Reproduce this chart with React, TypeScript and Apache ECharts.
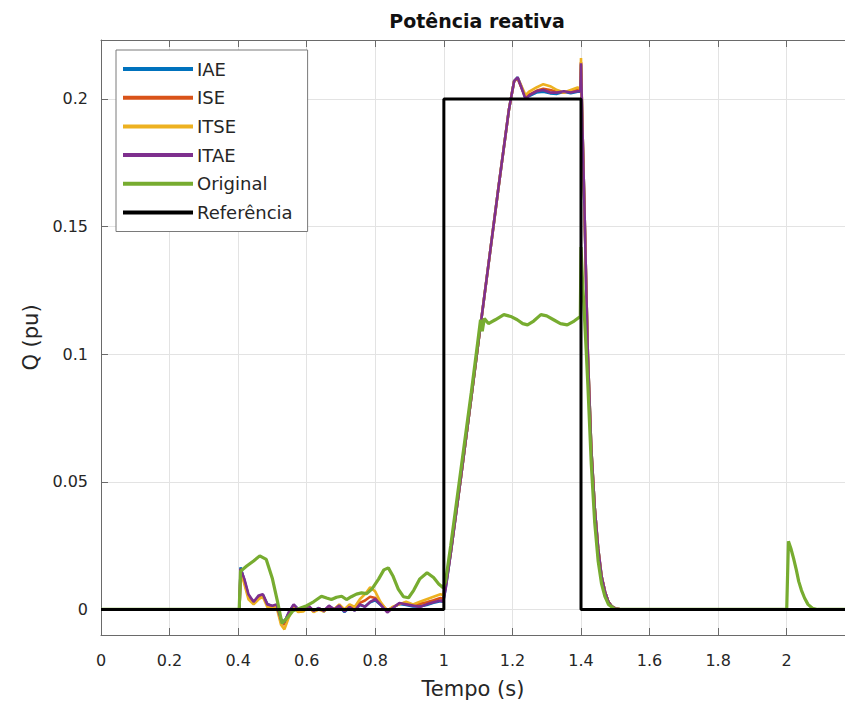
import { useEffect, useRef } from "react";
import * as echarts from "echarts";

const chartTitle = "Potência reativa";
const xName = "Tempo (s)";
const yName = "Q (pu)";
const xTicks = [0, 0.2, 0.4, 0.6, 0.8, 1, 1.2, 1.4, 1.6, 1.8, 2];
const yTicks = [0, 0.05, 0.1, 0.15, 0.2];
const seriesNames = ["IAE", "ISE", "ITSE", "ITAE", "Original", "Referência"];
const seriesColors = ["#0072BD", "#D95319", "#EDB120", "#7E2F8E", "#77AC30", "#000000"];

// time base shared by the four tuned controllers
const tCtrl = [0, 0.404, 0.407, 0.418, 0.43, 0.445, 0.46, 0.472, 0.485, 0.5, 0.512, 0.525, 0.535, 0.548, 0.562, 0.575, 0.59, 0.605, 0.62, 0.635, 0.65, 0.665, 0.68, 0.695, 0.71, 0.725, 0.74, 0.755, 0.77, 0.785, 0.8, 0.815, 0.835, 0.85, 0.87, 0.89, 0.91, 0.93, 0.95, 0.97, 0.99, 0.998, 1.005, 1.02, 1.05, 1.08, 1.1, 1.13, 1.16, 1.19, 1.205, 1.215, 1.225, 1.238, 1.25, 1.27, 1.29, 1.31, 1.33, 1.35, 1.37, 1.39, 1.398, 1.4, 1.404, 1.41, 1.415, 1.42, 1.43, 1.44, 1.45, 1.46, 1.47, 1.48, 1.49, 1.5, 1.52, 2.17];

const qIAE = [0, 0, 0.0165, 0.0115, 0.0055, 0.0028, 0.005, 0.0058, 0.0022, 0.0012, 0.0018, -0.0038, -0.0048, -0.0012, 0.0018, 0.0002, -0.0002, 0.0012, -0.0006, 0.0006, -0.0008, 0.0012, 0.0001, 0.0012, -0.001, 0.0008, -0.0004, 0.0018, 0.0012, 0.0028, 0.0036, 0.0018, -0.0008, 0.0006, 0.0022, 0.0018, 0.0012, 0.0012, 0.0018, 0.0026, 0.0032, 0.003, 0.008, 0.022, 0.052, 0.083, 0.104, 0.135, 0.166, 0.196, 0.207, 0.2085, 0.2052, 0.2005, 0.2012, 0.2025, 0.2028, 0.2022, 0.202, 0.2028, 0.2022, 0.2028, 0.2028, 0.2135, 0.19, 0.158, 0.128, 0.1, 0.063, 0.04, 0.024, 0.013, 0.007, 0.003, 0.0012, 0.0004, 0, 0];
const qISE = [0, 0, 0.0158, 0.0108, 0.005, 0.0025, 0.0048, 0.0055, 0.0018, 0.0008, 0.0015, -0.0045, -0.006, -0.002, 0.0015, -0.0004, -0.0004, 0.0012, -0.0008, 0.0004, -0.0006, 0.0012, 0.0, 0.0016, -0.0004, 0.0012, 0.0, 0.0026, 0.0035, 0.005, 0.0045, 0.0025, -0.0004, 0.0008, 0.0022, 0.0026, 0.0018, 0.0022, 0.0028, 0.0036, 0.0045, 0.004, 0.009, 0.022, 0.052, 0.083, 0.104, 0.135, 0.166, 0.196, 0.207, 0.208, 0.2048, 0.2008, 0.2018, 0.2032, 0.204, 0.2035, 0.2028, 0.2025, 0.203, 0.2035, 0.2035, 0.2145, 0.19, 0.158, 0.128, 0.1, 0.063, 0.04, 0.024, 0.013, 0.007, 0.003, 0.0012, 0.0004, 0, 0];
const qITSE = [0, 0, 0.015, 0.01, 0.004, 0.002, 0.004, 0.005, 0.001, 0.0005, 0.001, -0.006, -0.0078, -0.003, 0.001, -0.001, -0.0008, 0.001, -0.001, 0.0, -0.0008, 0.001, 0.0, 0.002, 0.0, 0.002, 0.001, 0.004, 0.006, 0.0087, 0.007, 0.003, -0.0006, 0.001, 0.002, 0.003, 0.002, 0.003, 0.004, 0.005, 0.006, 0.0055, 0.01, 0.023, 0.052, 0.083, 0.104, 0.135, 0.166, 0.196, 0.207, 0.2082, 0.2055, 0.2015, 0.203, 0.2045, 0.2058, 0.205, 0.2035, 0.2025, 0.2035, 0.2045, 0.204, 0.216, 0.19, 0.158, 0.128, 0.1, 0.063, 0.04, 0.024, 0.013, 0.007, 0.003, 0.0012, 0.0004, 0, 0];
const qITAE = [0, 0, 0.016, 0.012, 0.006, 0.003, 0.0055, 0.006, 0.002, 0.0015, 0.002, -0.004, -0.005, -0.001, 0.002, 0.0, 0.0, 0.0015, -0.0005, 0.0005, -0.0005, 0.0015, 0.0, 0.0015, -0.0008, 0.001, -0.0005, 0.002, 0.001, 0.003, 0.004, 0.002, -0.0012, 0.0005, 0.0025, 0.002, 0.0015, 0.001, 0.002, 0.0028, 0.0035, 0.003, 0.008, 0.022, 0.052, 0.083, 0.104, 0.135, 0.166, 0.196, 0.207, 0.2085, 0.205, 0.2, 0.2015, 0.203, 0.2035, 0.2025, 0.2025, 0.203, 0.2025, 0.203, 0.203, 0.214, 0.19, 0.158, 0.128, 0.1, 0.063, 0.04, 0.024, 0.013, 0.007, 0.003, 0.0012, 0.0004, 0, 0];

const tOrig = [0, 0.403, 0.407, 0.425, 0.445, 0.463, 0.482, 0.5, 0.515, 0.528, 0.545, 0.56, 0.58, 0.6, 0.62, 0.643, 0.658, 0.672, 0.687, 0.702, 0.716, 0.73, 0.745, 0.76, 0.775, 0.79, 0.81, 0.825, 0.838, 0.852, 0.867, 0.882, 0.897, 0.912, 0.93, 0.951, 0.97, 0.985, 0.998, 1.005, 1.02, 1.05, 1.08, 1.1, 1.107, 1.112, 1.118, 1.13, 1.15, 1.175, 1.195, 1.214, 1.23, 1.244, 1.262, 1.283, 1.3, 1.32, 1.34, 1.36, 1.38, 1.398, 1.4, 1.404, 1.41, 1.415, 1.42, 1.43, 1.44, 1.45, 1.46, 1.47, 1.48, 1.5, 2.0, 2.005, 2.012, 2.02, 2.028, 2.035, 2.043, 2.052, 2.062, 2.075, 2.09, 2.17];
const qOrig = [0, 0, 0.015, 0.017, 0.019, 0.021, 0.0196, 0.012, 0.003, -0.0055, -0.003, -0.0005, 0.0005, 0.0015, 0.003, 0.0052, 0.0045, 0.0039, 0.0048, 0.0052, 0.0039, 0.005, 0.006, 0.0065, 0.0062, 0.008, 0.012, 0.0155, 0.0163, 0.013, 0.008, 0.005, 0.0046, 0.0075, 0.012, 0.0144, 0.0125, 0.01, 0.0085, 0.011, 0.025, 0.055, 0.085, 0.106, 0.1135, 0.109, 0.114, 0.112, 0.1135, 0.1155, 0.1148, 0.1135, 0.112, 0.1115, 0.113, 0.1155, 0.115, 0.1135, 0.112, 0.1115, 0.113, 0.1148, 0.142, 0.13, 0.115, 0.102, 0.088, 0.057, 0.034, 0.019, 0.01, 0.005, 0.002, 0, 0, 0.0267, 0.024, 0.02, 0.0155, 0.011, 0.0075, 0.0045, 0.002, 0.0005, 0, 0];

const tRef = [0, 1, 1, 1.4, 1.4, 2.17];
const qRef = [0, 0, 0.2, 0.2, 0, 0];

const FONT = "'DejaVu Sans', sans-serif";

function pairs(t: number[], q: number[]) {
  return t.map((x, i) => [x, q[i]]);
}

export default function App() {
  const ref = useRef<HTMLDivElement>(null);
  useEffect(() => {
    if (!ref.current) return;
    const chart = echarts.init(ref.current, null, { renderer: "svg" });
    const datasets = [
      pairs(tCtrl, qIAE),
      pairs(tCtrl, qISE),
      pairs(tCtrl, qITSE),
      pairs(tCtrl, qITAE),
      pairs(tOrig, qOrig),
      pairs(tRef, qRef),
    ];
    const axisColor = "#6a6a6a";
    chart.setOption({
      animation: false,
      backgroundColor: "#ffffff",
      title: {
        text: chartTitle,
        left: 472,
        top: 6,
        textAlign: "center",
        textStyle: { fontFamily: FONT, fontSize: 19, fontWeight: "bold", color: "#111" },
      },
      legend: {
        orient: "vertical",
        left: 116,
        top: 50,
        padding: [10, 15, 10, 7],
        itemWidth: 70,
        itemHeight: 4,
        itemGap: 10.7,
        icon: "rect",
        backgroundColor: "#ffffff",
        borderColor: "#7a7a7a",
        borderWidth: 1,
        borderRadius: 0,
        textStyle: { fontFamily: FONT, fontSize: 18, color: "#262626", padding: [0, 0, 0, -1] },
        data: seriesNames,
      },
      grid: { left: 101, right: 0, top: 40, bottom: 78, containLabel: false },
      xAxis: [
        {
          type: "value",
          min: 0,
          max: 2.17,
          position: "bottom",
          name: xName,
          nameLocation: "middle",
          nameGap: 43,
          nameTextStyle: { fontFamily: FONT, fontSize: 21, color: "#262626" },
          axisLine: { show: true, onZero: false, lineStyle: { color: axisColor, width: 1 } },
          axisTick: { show: true, inside: true, length: 7, customValues: xTicks, lineStyle: { color: axisColor } },
          axisLabel: { customValues: xTicks, margin: 17, fontFamily: FONT, fontSize: 16, color: "#262626" },
          splitLine: { show: true, lineStyle: { color: "#e3e3e3", width: 1 } },
        },
        {
          type: "value",
          min: 0,
          max: 2.17,
          position: "top",
          axisLine: { show: true, onZero: false, lineStyle: { color: axisColor, width: 1 } },
          axisTick: { show: true, inside: true, length: 7, customValues: xTicks, lineStyle: { color: axisColor } },
          axisLabel: { show: false },
          splitLine: { show: false },
        },
      ],
      yAxis: {
        type: "value",
        min: -0.01,
        max: 0.2231,
        name: yName,
        nameLocation: "middle",
        nameGap: 58,
        nameTextStyle: { fontFamily: FONT, fontSize: 21, color: "#262626" },
        axisLine: { show: true, onZero: false, lineStyle: { color: axisColor, width: 1 } },
        axisTick: { show: true, inside: true, length: 7, customValues: yTicks, lineStyle: { color: axisColor } },
        axisLabel: { customValues: yTicks, margin: 13, fontFamily: FONT, fontSize: 16, color: "#262626" },
        splitLine: { show: true, lineStyle: { color: "#e3e3e3", width: 1 } },
      },
      series: seriesNames.map((name, i) => ({
        name,
        type: "line",
        xAxisIndex: 0,
        data: datasets[i],
        showSymbol: false,
        symbol: "none",
        color: seriesColors[i],
        lineStyle: { color: seriesColors[i], width: i === 5 ? 3 : i === 4 ? 3.2 : 2.6 },
        z: 2 + i,
        emphasis: { disabled: true },
      })),
    });
    return () => chart.dispose();
  }, []);
  return (
    <div
      ref={ref}
      style={{ position: "fixed", left: 0, top: 0, width: 845, height: 713 }}
    />
  );
}
